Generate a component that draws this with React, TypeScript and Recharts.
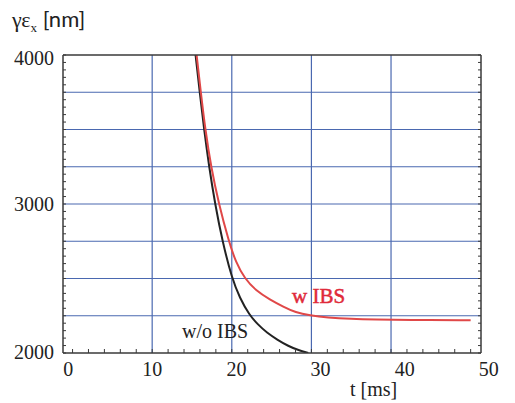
import React from "react"
import {
  LineChart, Line, XAxis, YAxis, ReferenceLine, ReferenceDot,
} from "recharts"

// w/o IBS (black curve)
const woIbsT = [15.45, 15.97, 16.52, 17.15, 17.9, 18.82, 20.02, 21.0, 22.2, 23.3, 24.4, 25.7, 27.1, 28.4, 29.6]
const woIbsE = [4000, 3750, 3500, 3250, 3000, 2750, 2500, 2370, 2255, 2190, 2136, 2090, 2046, 2018, 2000]

// w IBS (red curve)
const wIbsT = [15.58, 16.11, 16.67, 17.39, 18.37, 19.62, 20.5, 21.62, 23.0, 24.8, 26.5, 28.0, 29.8, 32, 35, 38, 42, 50]
const wIbsE = [4000, 3750, 3500, 3250, 3000, 2750, 2610, 2500, 2420, 2358, 2310, 2272, 2252, 2238, 2229, 2225, 2222, 2220]

const xGrid = [10, 20, 30, 40]
const yGrid = [2250, 2500, 2750, 3000, 3250, 3500, 3750]
const xLabels = [0, 10, 20, 30, 40, 50]
const yLabels = [2000, 3000, 4000]
const xTicks = Array.from({ length: 26 }, (_, i) => i * 2)
const yTicks = Array.from({ length: 41 }, (_, i) => 2000 + i * 50)

const woIbs = woIbsT.map((t, i) => ({ t, e: woIbsE[i] }))
const wIbs = wIbsT.map((t, i) => ({ t, e: wIbsE[i] }))

const SERIF = "Liberation Serif, Times New Roman, serif"
const FRAME = "#3a3a3a"
const GRID = "#4a68b0"

const leftTick = (p: any) => {
  const v = p.payload.value
  const shift = v === 4000 ? 3 : v === 2000 ? -1.5 : 0
  return (
    <g>
      <line x1={p.x} x2={p.x + 3} y1={p.y} y2={p.y} stroke={FRAME} />
      {yLabels.includes(v) && (
        <text x={p.x - 9} y={p.y + 7 + shift} textAnchor="end" fontSize={20} fontFamily={SERIF} fill="#222">{v}</text>
      )}
    </g>
  )
}

const rightTick = (p: any) => (
  <line x1={p.x} x2={p.x - 3} y1={p.y} y2={p.y} stroke={FRAME} />
)

const bottomTick = (p: any) => {
  const v = p.payload.value
  return (
    <g>
      <line x1={p.x} x2={p.x} y1={p.y} y2={p.y - 4} stroke={FRAME} />
      {xLabels.includes(v) && (
        <text x={p.x - 4.4 + 0.45 * v} y={p.y + 23} textAnchor="middle" fontSize={20} fontFamily={SERIF} fill="#222">{v}</text>
      )}
    </g>
  )
}

const topTick = (p: any) => (
  <line x1={p.x} x2={p.x} y1={p.y} y2={p.y + 4} stroke={FRAME} />
)

export default function App() {
  return (
    <div style={{ position: "absolute", left: 0, top: 0, width: 515, height: 403, background: "#fff" }}>
      <div style={{ position: "absolute", left: 12, top: 5, fontSize: 22, color: "#222", whiteSpace: "nowrap" }}>
        <span style={{ fontFamily: SERIF }}>γε<sub style={{ fontSize: 13 }}>x</sub></span>
        <span style={{ fontFamily: "Lato, sans-serif" }}> [nm]</span>
      </div>
      <div style={{ position: "absolute", left: 350, top: 378, fontSize: 20, fontFamily: SERIF, color: "#222" }}>
        t [ms]
      </div>
      <LineChart width={515} height={403} margin={{ top: 45, right: 24, bottom: 20, left: 8 }}>
        <XAxis
          dataKey="t" type="number" domain={[-1.2, 51.3]} allowDataOverflow ticks={xTicks} interval={0}
          height={30} tickSize={0} tickMargin={0} tickLine={false}
          axisLine={{ stroke: FRAME, strokeWidth: 1.5 }} tick={bottomTick}
        />
        <XAxis
          xAxisId="top" orientation="top" type="number" domain={[-1.2, 51.3]} allowDataOverflow ticks={xTicks} interval={0}
          height={10} tickSize={0} tickMargin={0} tickLine={false}
          axisLine={{ stroke: FRAME, strokeWidth: 1.5 }} tick={topTick}
        />
        <YAxis
          type="number" domain={[2000, 4000]} allowDataOverflow ticks={yTicks} interval={0}
          width={55} tickSize={0} tickMargin={0} tickLine={false}
          axisLine={{ stroke: FRAME, strokeWidth: 1.5 }} tick={leftTick}
        />
        <YAxis
          yAxisId="right" orientation="right" type="number" domain={[2000, 4000]} allowDataOverflow ticks={yTicks} interval={0}
          width={10} tickSize={0} tickMargin={0} tickLine={false}
          axisLine={{ stroke: FRAME, strokeWidth: 1.5 }} tick={rightTick}
        />
        {xGrid.map((x) => (
          <ReferenceLine key={"x" + x} x={x} stroke={GRID} strokeWidth={1.2} />
        ))}
        {yGrid.map((y) => (
          <ReferenceLine key={"y" + y} y={y} stroke={GRID} strokeWidth={1.2} />
        ))}
        <Line data={woIbs} dataKey="e" type="basis" stroke="#222" strokeWidth={2} dot={false} isAnimationActive={false} />
        <Line data={wIbs} dataKey="e" type="basis" stroke="#e04848" strokeWidth={2} dot={false} isAnimationActive={false} />
        <ReferenceDot
          x={30.9} y={2385} r={0} fill="none" stroke="none"
          label={{ value: "w IBS", position: "center", fill: "#e02a3a", stroke: "#e02a3a", strokeWidth: 0.5, fontSize: 21, fontFamily: SERIF }}
        />
        <ReferenceDot
          x={17.9} y={2146} r={0} fill="none" stroke="none"
          label={{ value: "w/o IBS", position: "center", fill: "#222", fontSize: 20, fontFamily: SERIF }}
        />
      </LineChart>
    </div>
  )
}
